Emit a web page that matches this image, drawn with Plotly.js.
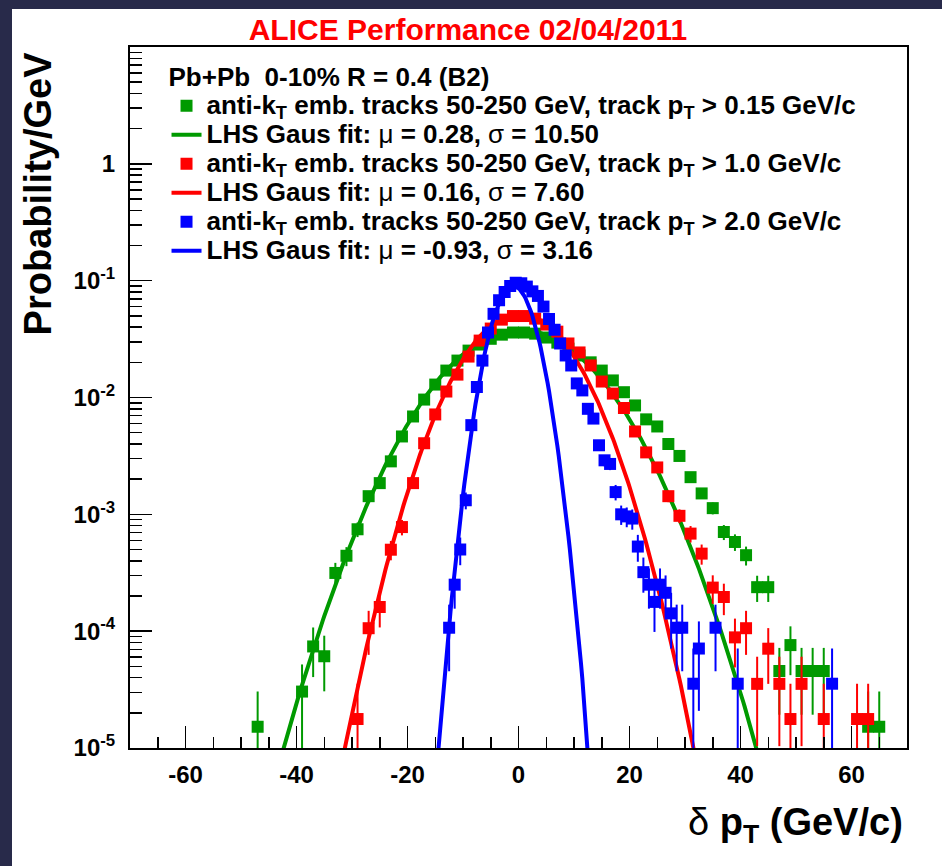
<!DOCTYPE html>
<html>
<head>
<meta charset="utf-8">
<script src="https://cdn.plot.ly/plotly-3.0.1.min.js"></script>
<style>
  html, body { margin: 0; padding: 0; width: 942px; height: 866px; overflow: hidden; background: #282a4a; }
  #chart { position: absolute; left: 12px; top: 9px; width: 930px; height: 857px; background: #ffffff; }
  /* legend rows are packed tightly: row pitch follows the layout font size,
     the glyphs themselves are drawn larger (also applies where text is measured) */
  .legendtext, .legendtitletext { font-size: 26px !important; }
</style>
</head>
<body>
<div id="chart"></div>
<script>
// ---- delta pT distributions (probability per GeV), bin centres in GeV/c ----
// track pT > 0.15 GeV/c, 2 GeV bins
const greenX = [-47,-39,-37,-35,-33,-31,-29,-27,-25,-23,-21,-19,-17,-15,-13,-11,-9,-7,-5,-3,-1,
  1,3,5,7,9,11,13,15,17,19,21,23,25,27,29,31,33,35,37,39,41,43,45,47,49,51,53,55,63,65];
const greenY = [1.52e-5,3.04e-5,7.4e-5,6.1e-5,3.15e-4,4.42e-4,7.45e-4,1.43e-3,1.85e-3,2.84e-3,4.64e-3,
  6.88e-3,9.6e-3,0.0129,0.0170,0.0207,0.0252,0.0284,0.0318,0.0345,0.036,
  0.036,0.0352,0.0326,0.0295,0.0262,0.0229,0.0200,0.0170,0.0140,0.0111,8.55e-3,6.5e-3,5.65e-3,
  4.0e-3,3.16e-3,2.08e-3,1.51e-3,1.13e-3,7.06e-4,5.8e-4,4.47e-4,2.38e-4,2.38e-4,
  4.56e-5,7.6e-5,4.56e-5,4.56e-5,4.56e-5,1.52e-5,1.52e-5];

// track pT > 1.0 GeV/c, 2 GeV bins
const redX = [-29,-27,-25,-23,-21,-19,-17,-15,-13,-11,-9,-7,-5,-3,-1,
  1,3,5,7,9,11,13,15,17,19,21,23,25,27,29,31,33,35,37,39,41,43,45,47,49,51,55,61,63];
const redY = [1.77e-5,1.06e-4,1.61e-4,4.98e-4,7.78e-4,1.85e-3,4.06e-3,7.16e-3,0.01125,0.0157,0.0224,
  0.0307,0.0389,0.0464,0.0498,
  0.0498,0.0473,0.0421,0.0366,0.029,0.0243,0.0188,0.0137,0.0108,8.13e-3,5.12e-3,3.39e-3,2.52e-3,
  1.43e-3,9.71e-4,6.84e-4,4.61e-4,2.36e-4,1.96e-4,8.85e-5,1.06e-4,3.54e-5,7.08e-5,3.54e-5,
  1.77e-5,3.54e-5,1.77e-5,1.77e-5,1.77e-5];

// track pT > 2.0 GeV/c, 1 GeV bins
const blueX = [-12.5,-11.5,-10.5,-9.5,-8.5,-7.5,-6.5,-5.5,-4.5,-3.5,-2.5,-1.5,-0.5,
  0.5,1.5,2.5,3.5,4.5,5.5,6.5,7.5,8.5,9.5,10.5,11.5,12.5,13.5,14.5,15.5,16.5,17.5,18.5,19.5,
  20.5,21.5,22.5,23.5,24.5,25.5,26.5,27.5,28.5,29.5,31.5,32.5,35.5,39.5,56.5];
const blueY = [1.07e-4,2.5e-4,5.0e-4,1.32e-3,5.8e-3,0.0123,0.0207,0.036,0.052,0.068,0.080,0.090,0.096,
  0.095,0.089,0.081,0.074,0.060,0.047,0.038,0.029,0.0229,0.0188,0.0132,0.0115,8.0e-3,6.6e-3,
  3.9e-3,2.9e-3,2.7e-3,1.55e-3,1.0e-3,9.6e-4,9.2e-4,5.3e-4,3.2e-4,2.5e-4,1.78e-4,2.5e-4,
  2.13e-4,1.42e-4,1.07e-4,1.07e-4,3.55e-5,7.1e-5,1.07e-4,3.55e-5,3.55e-5];

// probability carried by a single entry in each histogram (sets the Poisson error bars)
const entryWeight = { green: 1.52e-5, red: 1.77e-5, blue: 3.55e-5 };

// left-hand-side Gaussian fits: mean and width as quoted, amplitude at the mean
const fitMu    = { green: 0.28,  red: 0.16,  blue: -0.93 };
const fitSigma = { green: 10.50, red: 7.60,  blue: 3.16 };
const fitAmp   = { green: 0.038, red: 0.052, blue: 0.090 };

const legendText = {
  green: 'anti-k<sub>T</sub> emb. tracks 50-250 GeV, track p<sub>T</sub> > 0.15 GeV/c',
  red:   'anti-k<sub>T</sub> emb. tracks 50-250 GeV, track p<sub>T</sub> > 1.0 GeV/c',
  blue:  'anti-k<sub>T</sub> emb. tracks 50-250 GeV, track p<sub>T</sub> > 2.0 GeV/c'
};
const colors = { green: '#009a00', red: '#ff0000', blue: '#0000ff' };

const yTickVals = [1e-5, 1e-4, 1e-3, 1e-2, 1e-1, 1];
const yTickText = ['10<sup>-5</sup>', '10<sup>-4</sup>', '10<sup>-3</sup>', '10<sup>-2</sup>', '10<sup>-1</sup>', '1'];
const xTickVals = [-60, -40, -20, 0, 20, 40, 60];
const xTickText = ['-60', '-40', '-20', '0', '20', '40', '60'];

const FONT = 'Liberation Sans, Arial, Helvetica, sans-serif';

function poissonErr(ys, w) { return ys.map(v => Math.sqrt(v * w)); }

function gaussCurve(mu, sigma, amp) {
  const xs = [], ys = [];
  for (let x = -70; x <= 70.0001; x += 0.25) {
    xs.push(x);
    ys.push(amp * Math.exp(-(x - mu) * (x - mu) / (2 * sigma * sigma)));
  }
  return { xs, ys };
}

function fitLabel(key) {
  const n = v => v.toFixed(2);
  return 'LHS Gaus fit: <span style="font-weight:normal">\u03bc</span> = ' + n(fitMu[key]) +
         ', <span style="font-weight:normal">\u03c3</span> = ' + n(fitSigma[key]);
}

const series = [
  { key: 'green', x: greenX, y: greenY },
  { key: 'red',   x: redX,   y: redY },
  { key: 'blue',  x: blueX,  y: blueY }
];

const traces = [];
series.forEach(s => {
  traces.push({
    type: 'scatter', mode: 'markers', x: s.x, y: s.y,
    name: legendText[s.key],
    marker: { symbol: 'square', size: 12, color: colors[s.key] },
    error_y: { type: 'data', array: poissonErr(s.y, entryWeight[s.key]), width: 0,
               thickness: 2, color: colors[s.key] },
    cliponaxis: true
  });
  const c = gaussCurve(fitMu[s.key], fitSigma[s.key], fitAmp[s.key]);
  traces.push({
    type: 'scatter', mode: 'lines', x: c.xs, y: c.ys,
    name: fitLabel(s.key),
    line: { color: colors[s.key], width: 4 }
  });
});

// minor ticks on the log axis: 2..9 within each decade
const yMinor = [];
for (let e = -5; e <= 0; e++) for (let m = 2; m <= 9; m++) yMinor.push(m * Math.pow(10, e));

const layout = {
  width: 930, height: 857,
  paper_bgcolor: '#ffffff', plot_bgcolor: '#ffffff',
  margin: { l: 118, r: 35, t: 38, b: 118 },
  font: { family: FONT, size: 22, color: '#000000', weight: 'bold' },
  title: {
    text: 'ALICE Performance 02/04/2011',
    font: { family: FONT, size: 30, color: '#ff0000', weight: 'bold' },
    x: 0.435, xref: 'paper', xanchor: 'center', y: 0.976, yref: 'container', yanchor: 'middle'
  },
  xaxis: {
    type: 'linear', range: [-70, 70],
    tickmode: 'array', tickvals: xTickVals, ticktext: xTickText,
    ticks: 'inside', ticklen: 22, tickwidth: 1.5, tickcolor: '#000',
    minor: { ticks: 'inside', dtick: 5, tick0: -70, ticklen: 11, tickwidth: 1.5, tickcolor: '#000', showgrid: false },
    showline: true, linewidth: 2, linecolor: '#000', mirror: true,
    showgrid: false, zeroline: false,
    tickfont: { family: FONT, size: 24, weight: 'bold' },
    ticklabelstandoff: 4
  },
  yaxis: {
    type: 'log', range: [-5, 1],
    tickmode: 'array', tickvals: yTickVals, ticktext: yTickText,
    ticks: 'inside', ticklen: 22, tickwidth: 1.5, tickcolor: '#000',
    minor: { ticks: 'inside', tickmode: 'array', tickvals: yMinor, ticklen: 12, tickwidth: 1.5, tickcolor: '#000', showgrid: false },
    showline: true, linewidth: 2, linecolor: '#000', mirror: true,
    showgrid: false, zeroline: false,
    tickfont: { family: FONT, size: 24, weight: 'bold' },
    ticklabelstandoff: 8
  },
  showlegend: true,
  legend: {
    x: 0.047, y: 0.981, xanchor: 'left', yanchor: 'top',
    bgcolor: 'rgba(0,0,0,0)', borderwidth: 0,
    font: { family: FONT, size: 20, weight: 'bold', color: '#000' },
    title: { text: 'Pb+Pb\u00a0 0-10% R = 0.4 (B2)', font: { family: FONT, size: 20, weight: 'bold' } },
    tracegroupgap: 0, itemwidth: 30, traceorder: 'normal'
  },
  annotations: [
    {
      text: 'Probability/GeV', textangle: -90,
      xref: 'paper', yref: 'paper', x: -0.118, y: 0.997, xanchor: 'center', yanchor: 'top',
      showarrow: false, font: { family: FONT, size: 38, weight: 'bold', color: '#000' }
    },
    {
      text: '<span style="font-weight:normal">\u03b4</span> p<sub>T</sub> (GeV/c)',
      xref: 'paper', yref: 'paper', x: 0.998, y: -0.11, xanchor: 'right', yanchor: 'middle',
      showarrow: false, font: { family: FONT, size: 38, weight: 'bold', color: '#000' }
    }
  ]
};

Plotly.newPlot('chart', traces, layout, { staticPlot: true, displayModeBar: false });
</script>
</body>
</html>
